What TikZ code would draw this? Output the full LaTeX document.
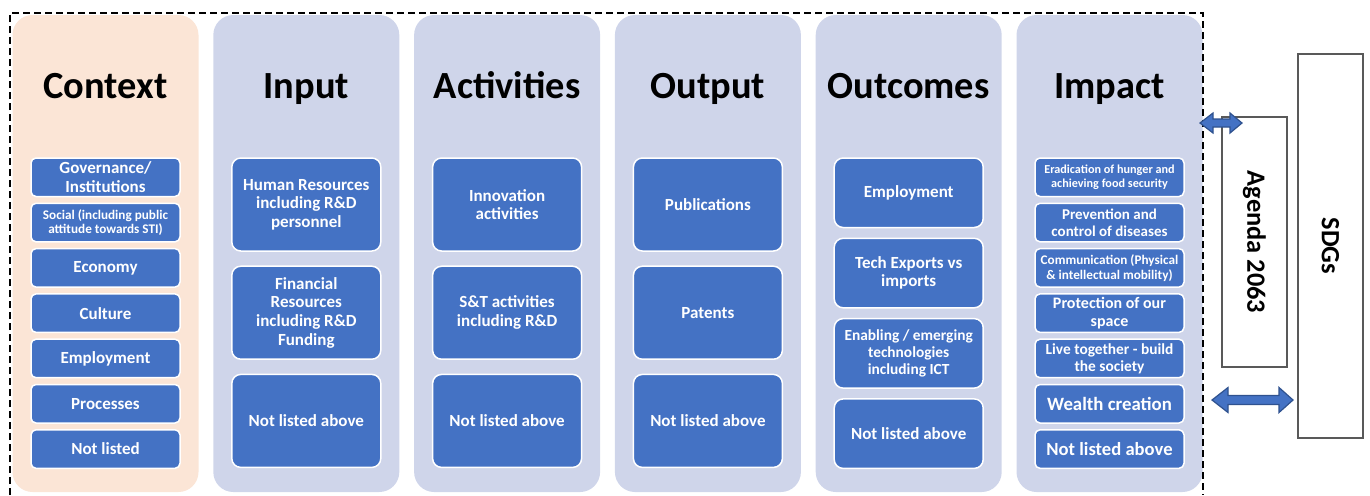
\documentclass[tikz,border=0pt]{standalone}
\usepackage{fontspec}
\setmainfont{Carlito}
\usepackage{tikz}
\usetikzlibrary{positioning}
\definecolor{panelblue}{HTML}{CFD5EA}
\definecolor{panelpeach}{HTML}{FBE5D6}
\definecolor{boxblue}{HTML}{4472C4}
\definecolor{arrowedge}{HTML}{2F528F}
\tikzset{
    panel/.style={fill=panelblue, rounded corners=10pt, minimum width=93pt, minimum height=238.5pt, inner sep=0pt, outer sep=0pt},
    heading/.style={anchor=base, inner sep=0pt, font=\bfseries\fontsize{19.2}{21}\selectfont},
    fsize/.style 2 args={font=\bfseries\fontsize{#1}{#2}\selectfont},
    smallbox/.style={draw=white, line width=0.75pt, fill=boxblue, text=white, rounded corners=2.5pt, minimum width=74.5pt, minimum height=19.25pt, inner sep=1pt, outer sep=0pt, align=center, fsize={8.5}{9.3}},
    bigbox/.style={smallbox, rounded corners=4.5pt, minimum height=46.5pt},
    midbox/.style={bigbox, minimum height=34.75pt},
    goalbox/.style={draw=black!65, line width=0.6pt, rotate=-90, minimum height=32.5pt, inner sep=0pt, fsize={13.2}{14}},
    blockarrow/.style={fill=boxblue, draw=arrowedge, line width=0.6pt}
}

\begin{document}
\begin{tikzpicture}[x=0.5pt, y=-0.5pt, node distance=7.4pt]
\useasboundingbox (0,0) rectangle (1370,495);

% columns
\node[panel, fill=panelpeach] (context) at (105.5,253.5) {};
\node[panel, right=of context] (input) {};
\node[panel, right=of input] (activities) {};
\node[panel, right=of activities] (output) {};
\node[panel, right=of output] (outcomes) {};
\node[panel, right=of outcomes] (impact) {};

\node[heading] (contextTitle) at ([yshift=-41.5pt]context.north) {Context};
\node[heading] (inputTitle) at ([yshift=-41.5pt]input.north) {Input};
\node[heading] (activitiesTitle) at ([yshift=-41.5pt]activities.north) {Activities};
\node[heading] (outputTitle) at ([yshift=-41.5pt]output.north) {Output};
\node[heading] (outcomesTitle) at ([yshift=-41.5pt]outcomes.north) {Outcomes};
\node[heading] (impactTitle) at ([yshift=-41.5pt]impact.north) {Impact};

% context
\node[smallbox, below=71.5pt of context.north] (governance) {Governance/\\Institutions};
\node[smallbox, fsize={6.6}{7.4}, below=3.4pt of governance] (social) {Social (including public\\attitude towards STI)};
\node[smallbox, below=3.4pt of social] (economy) {Economy};
\node[smallbox, below=3.4pt of economy] (culture) {Culture};
\node[smallbox, below=3.4pt of culture] (employment) {Employment};
\node[smallbox, below=3.4pt of employment] (processes) {Processes};
\node[smallbox, below=3.4pt of processes] (ctxOther) {Not listed};

% input
\node[bigbox, below=71.5pt of input.north] (human) {Human Resources\\including R\&D\\personnel};
\node[bigbox, below=7.6pt of human] (financial) {Financial\\Resources\\including R\&D\\Funding};
\node[bigbox, below=7.6pt of financial] (inOther) {Not listed above};

% activities
\node[bigbox, below=71.5pt of activities.north] (innovation) {Innovation\\activities};
\node[bigbox, below=7.6pt of innovation] (st) {S\&T activities\\including R\&D};
\node[bigbox, below=7.6pt of st] (actOther) {Not listed above};

% output
\node[bigbox, below=71.5pt of output.north] (publications) {Publications};
\node[bigbox, below=7.6pt of publications] (patents) {Patents};
\node[bigbox, below=7.6pt of patents] (outOther) {Not listed above};

% outcomes
\node[midbox, below=71.5pt of outcomes.north] (jobs) {Employment};
\node[midbox, below=5.4pt of jobs] (exports) {Tech Exports vs\\imports};
\node[midbox, fsize={7.7}{8.4}, below=5.4pt of exports] (enabling) {Enabling / emerging\\technologies\\including ICT};
\node[midbox, below=5.4pt of enabling] (ocOther) {Not listed above};

% impact
\node[smallbox, fsize={6.1}{6.9}, below=71.5pt of impact.north] (hunger) {Eradication of hunger and\\achieving food security};
\node[smallbox, fsize={7.5}{8.4}, below=3.4pt of hunger] (diseases) {Prevention and\\control of diseases};
\node[smallbox, fsize={6.6}{7.4}, below=3.4pt of diseases] (communication) {Communication (Physical\\\& intellectual mobility)};
\node[smallbox, fsize={8}{8.8}, below=3.4pt of communication] (space) {Protection of our\\space};
\node[smallbox, fsize={7.7}{8.4}, below=3.4pt of space] (society) {Live together - build\\the society};
\node[smallbox, fsize={9.4}{10}, below=3.4pt of society] (wealth) {Wealth creation};
\node[smallbox, fsize={9.3}{10}, below=3.4pt of wealth] (impOther) {Not listed above};

% frame
\draw[line width=1.3pt, dash pattern=on 3.5pt off 2pt] (10,495) -- (10,13) -- (1203,13) -- (1203,495);

% goals
\node[goalbox, minimum width=125pt] (agenda) at (1254.5,242) {Agenda 2063};
\node[goalbox, minimum width=192pt] (sdgs) at (1330.5,246) {SDGs};

\draw[blockarrow] (1200,123) -- (1213,113) -- (1213,119) -- (1230,119) -- (1230,113) -- (1242,123) -- (1230,133) -- (1230,127) -- (1213,127) -- (1213,133) -- cycle;
\draw[blockarrow] (1212,400) -- (1228,387.5) -- (1228,395.5) -- (1279,395.5) -- (1279,387.5) -- (1293,400) -- (1279,412.5) -- (1279,404.5) -- (1228,404.5) -- (1228,412.5) -- cycle;
\end{tikzpicture}
\end{document}
